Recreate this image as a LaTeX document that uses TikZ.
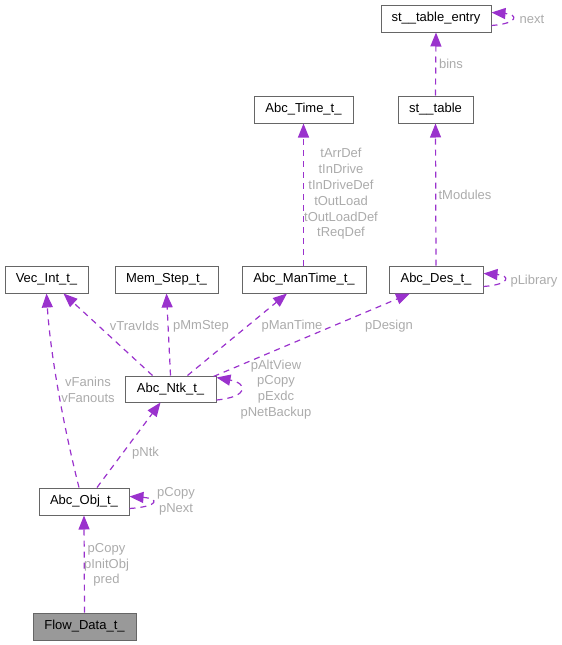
\documentclass[tikz,border=0pt]{standalone}
\usepackage{fontspec}
\setmainfont{Liberation Sans}
\usetikzlibrary{arrows.meta,calc}
\definecolor{edgec}{HTML}{9A32CD}
\definecolor{labc}{HTML}{ABABAB}
\definecolor{boxc}{HTML}{666666}
\begin{document}
\begin{tikzpicture}[x=1pt,y=-1pt,
  cls/.style={draw=boxc,line width=1pt,fill=white,inner sep=0pt,minimum height=27pt,font=\fontsize{13}{15}\selectfont},
  edge/.style={draw=edgec,line width=1.2pt,dash pattern=on 6pt off 5pt,-{Triangle[length=14pt,width=11pt]}},
  lab/.style={text=labc,font=\fontsize{13}{15.8}\selectfont,align=center,inner sep=0pt}]
\useasboundingbox (0,0) rectangle (562,645);
% nodes
\node[cls,minimum width=110pt] (ste) at (436,18.5) {st\_\_table\_entry};
\node[cls,minimum width=75pt] (st) at (435.5,109.5) {st\_\_table};
\node[cls,minimum width=99pt] (time) at (303.5,109.5) {Abc\_Time\_t\_};
\node[cls,minimum width=83pt] (vec) at (46.5,279.5) {Vec\_Int\_t\_};
\node[cls,minimum width=103pt] (mem) at (166.5,279.5) {Mem\_Step\_t\_};
\node[cls,minimum width=124pt] (mt) at (304,279.5) {Abc\_ManTime\_t\_};
\node[cls,minimum width=94pt] (des) at (436,279.5) {Abc\_Des\_t\_};
\node[cls,minimum width=91pt,minimum height=26pt] (ntk) at (170.5,389) {Abc\_Ntk\_t\_};
\node[cls,minimum width=90pt] (obj) at (84,501.5) {Abc\_Obj\_t\_};
\node[cls,minimum width=103pt,fill=black!40] (flow) at (84.5,626.5) {Flow\_Data\_t\_};
% edges
\draw[edge] (st.north) -- (ste.south);
\draw[edge] ([yshift=-7pt]ste.east) .. controls +(27pt,2pt) and +(27pt,-2pt) .. ([yshift=6pt]ste.east);
\draw[edge] (des.north) -- (st.south);
\draw[edge] (mt.north -| time.south) -- (time.south);
\draw[edge] ([yshift=-7pt]des.east) .. controls +(27pt,2pt) and +(27pt,-2pt) .. ([yshift=6pt]des.east);
\draw[edge] ([xshift=-18pt]ntk.north) -- ([xshift=17pt]vec.south);
\draw[edge] ([xshift=0pt]ntk.north) -- ([xshift=0pt]mem.south);
\draw[edge] ([xshift=17pt]ntk.north) -- ([xshift=-17pt]mt.south);
\draw[edge] ([xshift=-3pt,yshift=-1pt]ntk.north east) -- ([xshift=-26pt]des.south);
\draw[edge] ([yshift=-11pt]ntk.east) .. controls +(32pt,3pt) and +(32pt,-6pt) .. ([yshift=-2pt]ntk.north east);
\draw[edge] ([xshift=-5pt]obj.north) .. controls (62,420) and (50,350) .. (vec.south);
\draw[edge] ([xshift=13pt]obj.north) -- ([xshift=-10pt]ntk.south);
\draw[edge] ([yshift=-7pt]obj.east) .. controls +(30pt,2pt) and +(30pt,-2pt) .. ([yshift=5pt]obj.east);
\draw[edge] (flow.north) -- (obj.south);
% labels
\node[lab] (l1) at (451,64) {bins};
\node[lab] (l2) at (532,19) {next};
\node[lab] (l3) at (465,195) {tModules};
\node[lab] (l4) at (341,194) {tArrDef\\tInDrive\\tInDriveDef\\tOutLoad\\tOutLoadDef\\tReqDef};
\node[lab] (l5) at (534,281) {pLibrary};
\node[lab] (l6) at (134.5,326) {vTravIds};
\node[lab] (l7) at (201,326) {pMmStep};
\node[lab] (l8) at (292,326) {pManTime};
\node[lab] (l9) at (389,326) {pDesign};
\node[lab] (l10) at (276,389.5) {pAltView\\pCopy\\pExdc\\pNetBackup};
\node[lab] (l11) at (88,389.5) {vFanins\\vFanouts};
\node[lab] (l12) at (145.5,453) {pNtk};
\node[lab] (l13) at (176,501.5) {pCopy\\pNext};
\node[lab] (l14) at (106.5,565) {pCopy\\pInitObj\\pred};
\end{tikzpicture}
\end{document}
